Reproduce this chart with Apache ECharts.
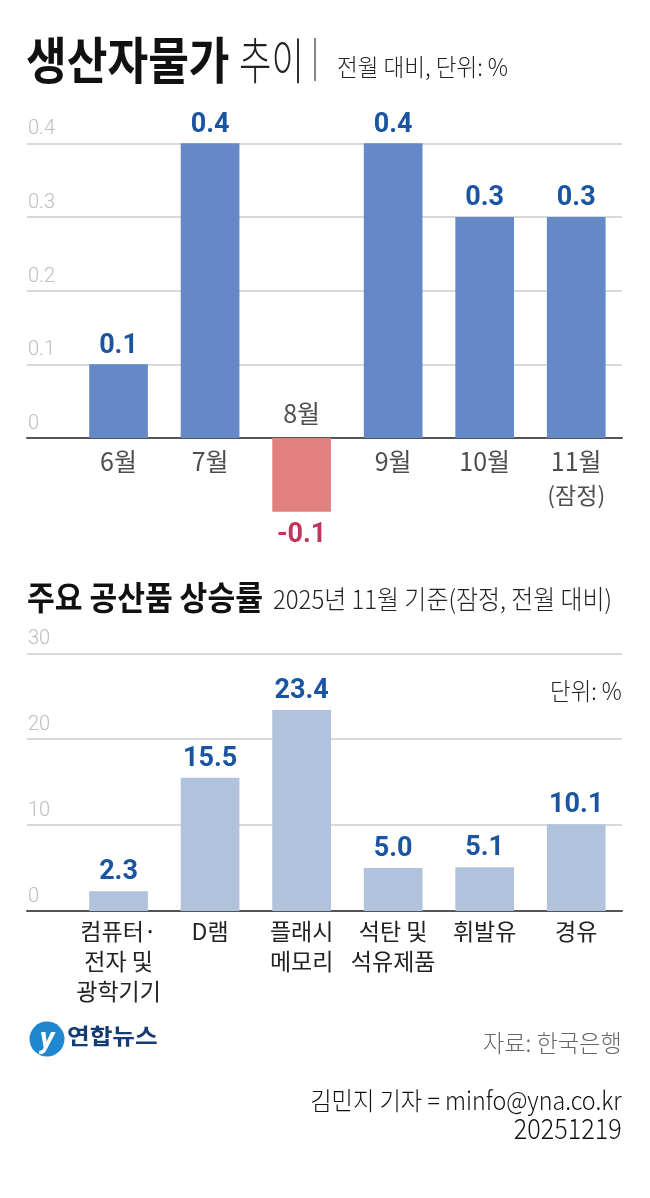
<html>
<head>
<meta charset="UTF-8">
<title>생산자물가 추이</title>
<style>
  body { margin: 0; background: #fff; }
  #chart { width: 650px; height: 1198px; }
</style>
</head>
<body>
<div id="chart"></div>
<script src="https://cdn.jsdelivr.net/npm/echarts@6.0.0/dist/echarts.min.js"></script>
<script>
// 생산자물가 추이 (전월 대비, %)
var months = ['6월', '7월', '8월', '9월', '10월', '11월'];
var monthValues = [0.1, 0.4, -0.1, 0.4, 0.3, 0.3];
var monthNotes = ['', '', '', '', '', '(잠정)'];

// 주요 공산품 상승률 (2025년 11월, %)
var products = ['컴퓨터·\n전자 및\n광학기기', 'D램', '플래시\n메모리', '석탄 및\n석유제품', '휘발유', '경유'];
var productValues = [2.3, 15.5, 23.4, 5.0, 5.1, 10.1];

var KR = '"Noto Sans CJK KR", "Noto Sans", sans-serif';
var NUM = 'Roboto, "Noto Sans", sans-serif';
var blue = '#6489c6', red = '#e0807f', pale = '#b1c2dd';
var labelBlue = '#1b55a2', labelRed = '#c0355a';

var myChart = echarts.init(document.getElementById('chart'), null, {renderer: 'canvas'});

function productLabel(v) {
  if (v % 1 !== 0 || v < 1 || v > products.length) return '';
  return products[v - 1];
}

var gridLine = {show: true, lineStyle: {color: '#cccccc', width: 1.5}};
var yLabel = {
  inside: true, margin: 1, color: '#bdbdbd', fontFamily: NUM, fontWeight: 300, fontSize: 20,
  verticalAlign: 'bottom', padding: [0, 0, 4, 0]
};

var option = {
  backgroundColor: '#fff',
  animation: false,
  grid: [
    {left: 27, right: 28, top: 143.3, height: 368.4},
    {left: 27, right: 28, top: 653.3, height: 257.7}
  ],
  xAxis: [
    {
      gridIndex: 0, type: 'value', min: 0, max: 6.5, interval: 1,
      splitLine: {show: false}, axisTick: {show: false}, axisLabel: {show: false},
      axisLine: {show: true, onZero: true, lineStyle: {color: '#555', width: 2}}
    },
    {
      gridIndex: 1, type: 'value', min: 0, max: 6.5, interval: 1,
      splitLine: {show: false}, axisTick: {show: false},
      axisLine: {show: true, lineStyle: {color: '#555', width: 2}},
      axisLabel: {
        formatter: productLabel, margin: 5, color: '#222', fontFamily: KR,
        fontSize: 23, lineHeight: 30
      }
    }
  ],
  yAxis: [
    {
      gridIndex: 0, type: 'value', min: -0.1, max: 0.4, interval: 0.1,
      axisLine: {show: false}, axisTick: {show: false},
      splitLine: {show: true, lineStyle: {color: ['rgba(0,0,0,0)', '#cccccc', '#cccccc', '#cccccc', '#cccccc', '#cccccc'], width: 1.5}},
      axisLabel: Object.assign({}, yLabel, {
        formatter: function (v) {
          if (v < -0.001) return '';
          return Math.abs(v) < 0.001 ? '0' : v.toFixed(1);
        }
      })
    },
    {
      gridIndex: 1, type: 'value', min: 0, max: 30, interval: 10,
      axisLine: {show: false}, axisTick: {show: false},
      splitLine: gridLine,
      axisLabel: yLabel
    }
  ],
  series: [
    {
      type: 'bar', xAxisIndex: 0, yAxisIndex: 0, barWidth: 58.7,
      data: monthValues.map(function (v, i) {
        return {
          value: [i + 1, v],
          itemStyle: {color: v < 0 ? red : blue},
          label: {
            position: v < 0 ? 'bottom' : 'top',
            distance: v < 0 ? 10 : 5,
            color: v < 0 ? labelRed : labelBlue
          }
        };
      }),
      label: {
        show: true, fontFamily: NUM, fontWeight: 'bold', fontSize: 27,
        formatter: function (p) { return p.value[1].toFixed(1); }
      }
    },
    {
      // 월 이름: 기준선(0) 아래, 음수 달은 기준선 위
      type: 'scatter', xAxisIndex: 0, yAxisIndex: 0, symbolSize: 0, silent: true,
      data: monthValues.map(function (v, i) {
        return {
          value: [i + 1, 0],
          label: {position: v < 0 ? 'top' : 'bottom', distance: v < 0 ? 9 : 7}
        };
      }),
      label: {
        show: true, color: '#222', fontFamily: KR, fontSize: 25, lineHeight: 34,
        formatter: function (p) {
          var i = p.value[0] - 1;
          return monthNotes[i] ? '{m|' + months[i] + '}\n{n|' + monthNotes[i] + '}' : '{m|' + months[i] + '}';
        },
        rich: {
          m: {fontFamily: KR, fontSize: 25, color: '#222', lineHeight: 32},
          n: {fontFamily: KR, fontSize: 23, color: '#222', lineHeight: 36}
        }
      }
    },
    {
      type: 'bar', xAxisIndex: 1, yAxisIndex: 1, barWidth: 58.7,
      itemStyle: {color: pale},
      data: productValues.map(function (v, i) { return [i + 1, v]; }),
      label: {
        show: true, position: 'top', distance: 5, color: labelBlue,
        fontFamily: NUM, fontWeight: 'bold', fontSize: 27,
        formatter: function (p) { return p.value[1].toFixed(1); }
      }
    }
  ],
  graphic: [
    {type: 'text', x: 26, y: 60, scaleX: 0.885,
     style: {text: '생산자물가', font: 'bold 50px ' + KR, fill: '#111', textVerticalAlign: 'middle'}},
    {type: 'text', x: 239, y: 60, scaleX: 0.72,
     style: {text: '추이', font: '300 49px ' + KR, fill: '#222', textVerticalAlign: 'middle'}},
    {type: 'line', shape: {x1: 315, y1: 38, x2: 315, y2: 81}, style: {stroke: '#333', lineWidth: 1.2}},
    {type: 'text', x: 337, y: 67, scaleX: 0.94,
     style: {text: '전월 대비, 단위: %', font: '300 24px ' + KR, fill: '#222', textVerticalAlign: 'middle'}},

    {type: 'text', x: 27, y: 597, scaleX: 0.915,
     style: {text: '주요 공산품 상승률', font: 'bold 33px ' + KR, fill: '#111', textVerticalAlign: 'middle'}},
    {type: 'text', x: 273, y: 599, scaleX: 0.92,
     style: {text: '2025년 11월 기준(잠정, 전월 대비)', font: '300 26px ' + KR, fill: '#222', textVerticalAlign: 'middle'}},
    {type: 'text', x: 621.7, y: 691, scaleX: 0.93,
     style: {text: '단위: %', font: '300 24px ' + KR, fill: '#222', textAlign: 'right', textVerticalAlign: 'middle'}},

    {type: 'circle', shape: {cx: 47, cy: 1039, r: 17.5}, style: {fill: '#1f87cf'}},
    {type: 'text', x: 47, y: 1040,
     style: {text: 'y', font: 'italic bold 30px ' + NUM, fill: '#fff', textAlign: 'center', textVerticalAlign: 'middle'}},
    {type: 'text', x: 67, y: 1036, scaleX: 1.12,
     style: {text: '연합뉴스', font: 'bold 22px ' + KR, fill: '#163c75', textVerticalAlign: 'middle'}},

    {type: 'text', x: 621.7, y: 1043, scaleX: 0.965,
     style: {text: '자료: 한국은행', font: '300 24px ' + KR, fill: '#666', textAlign: 'right', textVerticalAlign: 'middle'}},
    {type: 'text', x: 621.7, y: 1100, scaleX: 0.93,
     style: {text: '김민지 기자 = minfo@yna.co.kr', font: '300 25px ' + KR, fill: '#111', textAlign: 'right', textVerticalAlign: 'middle'}},
    {type: 'text', x: 621.7, y: 1128, scaleX: 0.9,
     style: {text: '20251219', font: '300 28px ' + KR, fill: '#111', textAlign: 'right', textVerticalAlign: 'middle'}}
  ]
};

myChart.setOption(option);
</script>
</body>
</html>
